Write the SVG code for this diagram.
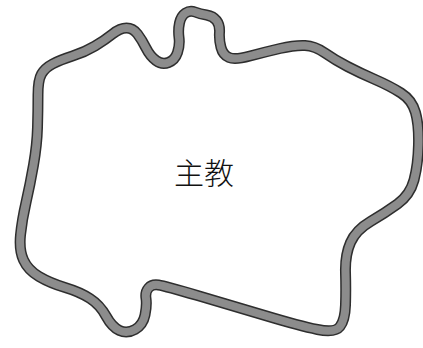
<svg xmlns="http://www.w3.org/2000/svg" width="423" height="348" viewBox="0 0 423 348">
<style>
.edge{fill:none;stroke:#2e2e2e;stroke-width:11;stroke-linejoin:round}
.core{fill:none;stroke:#8c8c8c;stroke-width:8;stroke-linejoin:round}
.lbl{font-family:"Noto Sans CJK SC","Noto Sans CJK JP",sans-serif;font-size:30px;font-weight:300;fill:#111;text-anchor:middle}
</style>
<defs>
<path id="outline" d="M41.5,74 Q38,80 38,95 Q38,110 37.5,127.5 Q37,145 33.5,165 Q30,185 26,202.5 Q22,220 20.5,235 Q19,250 23.5,260 Q28,270 39,276.5 Q50,283 65,287.5 Q80,292 90,298.5 Q100,305 106,316 Q112,327 119.5,330.5 Q127,334 135,329.5 Q143,325 145,315 Q147,305 146,298.5 Q145,292 148.5,288 Q152,284 158.5,285 Q165,286 197.5,295.5 Q230,305 265,315.5 Q300,326 317.5,329.5 Q335,333 340,326.5 Q345,320 345.5,305 Q346,290 345.5,272.5 Q345,255 350.5,242.5 Q356,230 370.5,221.5 Q385,213 397.5,204 Q410,195 414,180 Q418,165 418.5,145 Q419,125 415.5,112.5 Q412,100 401,93 Q390,86 375,79.5 Q360,73 347.5,66.5 Q335,60 325,53 Q315,46 305,45.5 Q295,45 280,48.5 Q265,52 250,56 Q235,60 229,57.5 Q223,55 221,47.5 Q219,40 219.5,32.5 Q220,25 216.5,20.5 Q213,16 206.5,15 Q200,14 195,12 Q190,10 185.5,13 Q181,16 179.5,23 Q178,30 179,37.5 Q180,45 177.5,52.5 Q175,60 168.5,62.5 Q162,65 156,60.5 Q150,56 146,48 Q142,40 137.5,34 Q133,28 126.5,28 Q120,28 112.5,34 Q105,40 95,46 Q85,52 72.5,56 Q60,60 52.5,64 Q45,68 41.5,74 Z"/>
</defs>
<g id="bishop">
<use href="#outline" class="edge"/>
<use href="#outline" class="core"/>
<text class="lbl" x="204" y="184">主教</text>
</g>
</svg>
